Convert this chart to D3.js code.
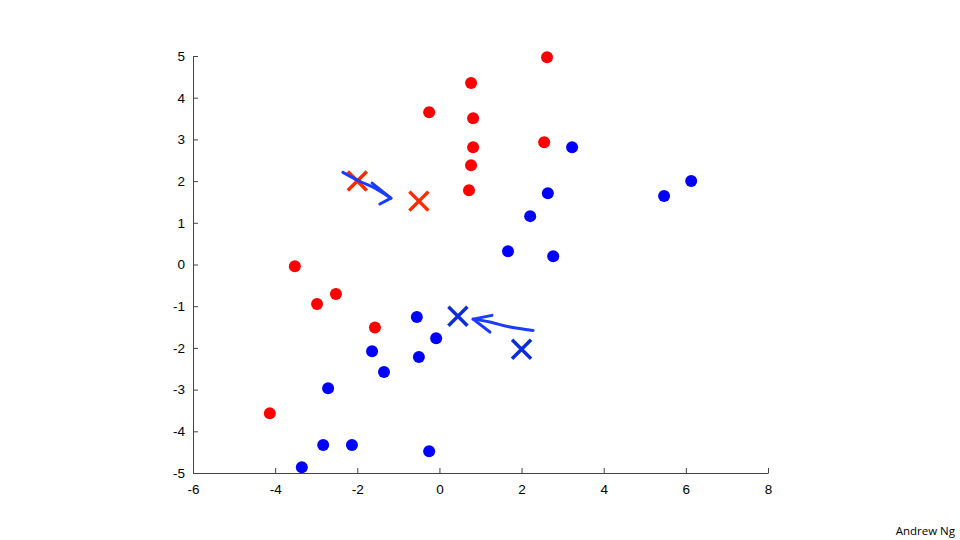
<!DOCTYPE html>
<html><head><meta charset="utf-8">
<script src="https://cdn.jsdelivr.net/npm/d3@7"></script>
<style>
html,body{margin:0;padding:0;background:#fff;}
svg{display:block;}
.tick text{font-family:"Liberation Sans",Arial,sans-serif;font-size:13.5px;fill:#000;}
</style></head>
<body>
<script>
// Data
const redX = [2.62, 0.77, -0.25, 0.82, 0.82, 2.55, 0.77, 0.72, -3.52, -2.52, -2.98, -1.57, -4.13];
const redY = [4.97, 4.35, 3.65, 3.51, 2.81, 2.93, 2.38, 1.78, -0.04, -0.71, -0.95, -1.51, -3.57];
const blueX = [3.23, 2.64, 5.47, 6.13, 2.21, 1.67, 2.77, -0.55, -0.08, -0.50, -1.64, -1.35, -2.71, -2.83, -2.13, -0.25, -3.35];
const blueY = [2.81, 1.71, 1.64, 2.00, 1.16, 0.32, 0.20, -1.26, -1.77, -2.22, -2.08, -2.58, -2.97, -4.33, -4.33, -4.48, -4.86];
const centroidsRed = [[-2.0, 2.0], [-0.5, 1.52]];
const centroidsBlue = [[0.45, -1.24], [2.0, -2.03]];
const arrowRedPath = [[-2.35, 2.21], [-1.93, 1.99], [-1.57, 1.83], [-1.18, 1.59]];
const arrowRedHead = [[-1.64, 1.95], [-1.18, 1.59], [-1.45, 1.45]];
const arrowBluePath = [[2.28, -1.58], [1.72, -1.50], [1.23, -1.38], [0.82, -1.31]];
const arrowBlueHead = [[1.28, -1.22], [0.82, -1.31], [1.23, -1.62]];
const xTicks = [-6, -4, -2, 0, 2, 4, 6, 8];
const yTicks = [-5, -4, -3, -2, -1, 0, 1, 2, 3, 4, 5];

const W = 960, H = 540;
const svg = d3.select("body").append("svg").attr("width", W).attr("height", H);
const x = d3.scaleLinear().domain([-6, 8]).range([193, 768]);
const y = d3.scaleLinear().domain([-5, 5]).range([473, 56]);

// axes
const gx = svg.append("g").attr("transform", `translate(0,${y(-5)})`)
  .call(d3.axisBottom(x).tickValues(xTicks).tickFormat(d3.format("d")).tickSizeInner(-5).tickSizeOuter(0).tickPadding(11));
const gy = svg.append("g").attr("transform", `translate(${x(-6)},0)`)
  .call(d3.axisLeft(y).tickValues(yTicks).tickFormat(d3.format("d")).tickSizeInner(-5).tickSizeOuter(0).tickPadding(8));
[gx, gy].forEach(g => {
  g.select(".domain").attr("stroke", "#444").attr("stroke-width", 1);
  g.selectAll(".tick line").attr("stroke", "#444");
});
gx.selectAll(".tick text").text(d => d < 0 ? "-" + Math.abs(d) : d);
gy.selectAll(".tick text").text(d => d < 0 ? "-" + Math.abs(d) : d);

// points
svg.append("g").selectAll("circle").data(redX.map((v, i) => [v, redY[i]])).join("circle")
  .attr("cx", d => x(d[0])).attr("cy", d => y(d[1])).attr("r", 6).attr("fill", "#ff0000");
svg.append("g").selectAll("circle").data(blueX.map((v, i) => [v, blueY[i]])).join("circle")
  .attr("cx", d => x(d[0])).attr("cy", d => y(d[1])).attr("r", 6).attr("fill", "#0000ff");

// centroids
function crosses(data, color) {
  const s = 9.5;
  const g = svg.append("g");
  data.forEach(d => {
    const cx = x(d[0]), cy = y(d[1]);
    g.append("path").attr("d", `M${cx - s},${cy - s}L${cx + s},${cy + s}M${cx - s},${cy + s}L${cx + s},${cy - s}`)
      .attr("stroke", color).attr("stroke-width", 3.5).attr("fill", "none");
  });
}
crosses(centroidsRed, "#ff2a00");
crosses(centroidsBlue, "#0b2fd6");

// arrows
const line = d3.line().x(d => x(d[0])).y(d => y(d[1])).curve(d3.curveCatmullRom);
const lineS = d3.line().x(d => x(d[0])).y(d => y(d[1]));
[[arrowRedPath, arrowRedHead], [arrowBluePath, arrowBlueHead]].forEach(([p, h]) => {
  svg.append("path").attr("d", line(p)).attr("stroke", "#1a3cff").attr("stroke-width", 3)
    .attr("fill", "none").attr("stroke-linecap", "round");
  svg.append("path").attr("d", lineS(h)).attr("stroke", "#1a3cff").attr("stroke-width", 3)
    .attr("fill", "none").attr("stroke-linecap", "round").attr("stroke-linejoin", "round");
});

svg.append("text").attr("x", 955).attr("y", 535).attr("text-anchor", "end")
  .attr("font-family", "'Open Sans', Lato, sans-serif").attr("font-size", 11.5).attr("fill", "#000")
  .text("Andrew Ng");
</script>
</body></html>
